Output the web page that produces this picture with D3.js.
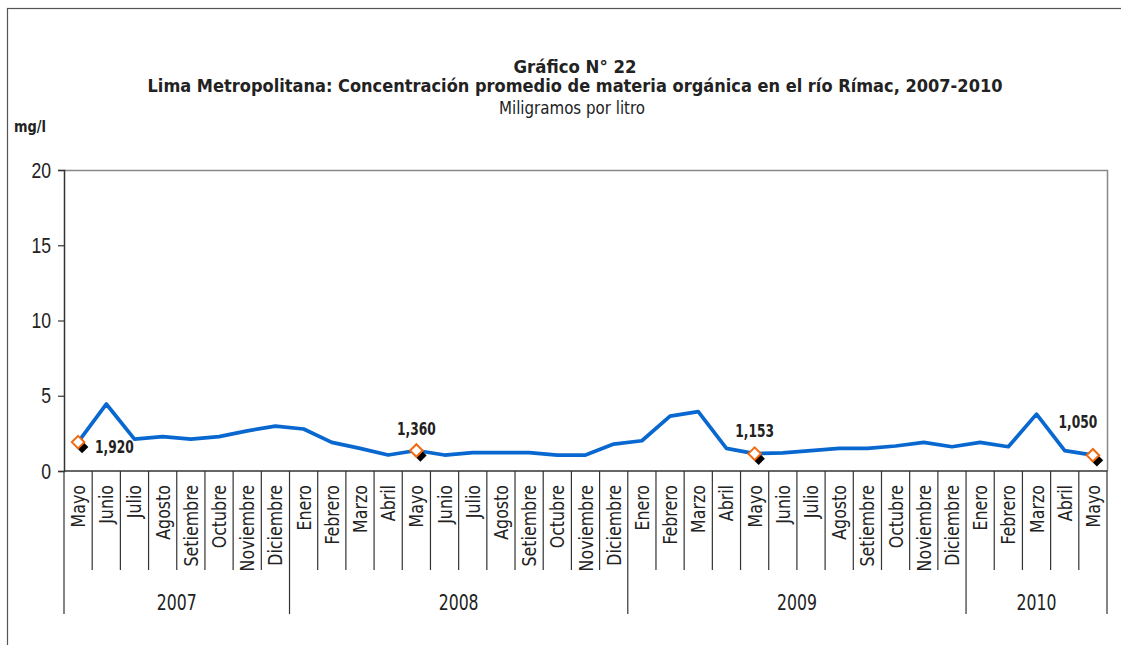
<!DOCTYPE html>
<html>
<head>
<meta charset="utf-8">
<script src="https://cdn.jsdelivr.net/npm/d3@7"></script>
<style>
  body { margin: 0; background: #fff; }
  svg { font-family: "Liberation Sans Narrow", "Arial Narrow", "DejaVu Sans Condensed", sans-serif; }
</style>
</head>
<body>
<div id="chart"></div>
<script>
// months shown on the category axis (May 2007 - May 2010)
var months = ["Mayo", "Junio", "Julio", "Agosto", "Setiembre", "Octubre", "Noviembre", "Diciembre",
  "Enero", "Febrero", "Marzo", "Abril", "Mayo", "Junio", "Julio", "Agosto", "Setiembre", "Octubre", "Noviembre", "Diciembre",
  "Enero", "Febrero", "Marzo", "Abril", "Mayo", "Junio", "Julio", "Agosto", "Setiembre", "Octubre", "Noviembre", "Diciembre",
  "Enero", "Febrero", "Marzo", "Abril", "Mayo"];

var years = ["2007", "2008", "2009", "2010"];
var yearMonths = [8, 12, 12, 5];

// mg/l
var values = [1.92, 4.45, 2.12, 2.28, 2.12, 2.28, 2.67, 2.98,
  2.79, 1.90, 1.50, 1.06, 1.36, 1.06, 1.22, 1.22, 1.22, 1.06, 1.06, 1.79,
  2.01, 3.65, 3.94, 1.50, 1.153, 1.20, 1.35, 1.50, 1.50, 1.66, 1.90, 1.61,
  1.90, 1.61, 3.78, 1.35, 1.05];

var labelled = [0, 12, 24, 36];
var labelText = ["1,920", "1,360", "1,153", "1,050"];

var yTicks = [0, 5, 10, 15, 20];

var width = 1121,
    height = 645;

var svg = d3.select("#chart").append("svg")
    .attr("width", width)
    .attr("height", height);

// squeeze text to look like a narrow face when none is installed
function narrow(sel, f) {
    sel.each(function () {
        var w = this.getComputedTextLength();
        d3.select(this).attr("textLength", w * f).attr("lengthAdjust", "spacingAndGlyphs");
    });
}

// outer frame (right and bottom edges fall outside the picture)
svg.append("rect")
    .attr("x", 7.5).attr("y", 8.5)
    .attr("width", 1200).attr("height", 700)
    .attr("fill", "none").attr("stroke", "#555").attr("stroke-width", 1.2);

var pLeft = 64, pRight = 1107, pTop = 170, pBottom = 471;

var x = d3.scaleBand()
    .domain(d3.range(months.length))
    .range([pLeft, pRight])
    .padding(0);

var y = d3.scaleLinear()
    .domain([0, 20])
    .range([pBottom, pTop]);

// titles
var title = svg.append("g").attr("text-anchor", "middle").attr("fill", "#222");
title.append("text").attr("x", 575).attr("y", 73)
    .style("font-size", "18px").style("font-weight", "bold")
    .attr("textLength", 123).attr("lengthAdjust", "spacingAndGlyphs")
    .text("Gráfico N° 22");
title.append("text").attr("x", 575).attr("y", 92)
    .style("font-size", "18px").style("font-weight", "bold")
    .attr("textLength", 855).attr("lengthAdjust", "spacing")
    .text("Lima Metropolitana: Concentración promedio de materia orgánica en el río Rímac, 2007-2010");
title.append("text").attr("x", 572).attr("y", 114)
    .style("font-size", "18px")
    .attr("textLength", 146).attr("lengthAdjust", "spacingAndGlyphs")
    .text("Miligramos por litro");

svg.append("text").attr("x", 14).attr("y", 132)
    .style("font-size", "15px").style("font-weight", "bold").attr("fill", "#222")
    .attr("textLength", 32).attr("lengthAdjust", "spacingAndGlyphs")
    .text("mg/l");

// plot border (top and right)
svg.append("path")
    .attr("d", "M" + pLeft + "," + (pTop + 0.5) + "H" + (pRight + 0.5) + "V" + pBottom)
    .attr("fill", "none").attr("stroke", "#888").attr("stroke-width", 1.5);

// y axis
var yAxis = svg.append("g")
    .attr("transform", "translate(" + pLeft + ",0)")
    .call(d3.axisLeft(y).tickValues(yTicks).tickSize(6).tickPadding(7));
yAxis.select(".domain").attr("stroke", "#333").attr("stroke-width", 1.5);
yAxis.selectAll(".tick line").attr("stroke", "#333").attr("stroke-width", 1.2);
yAxis.selectAll(".tick text")
    .style("font-size", "22px").style("font-family", "inherit").attr("fill", "#222")
    .call(narrow, 0.8);

// category axis: separators, month labels, year groups
var cat = svg.append("g");
cat.append("line")
    .attr("x1", pLeft).attr("x2", pRight + 0.5)
    .attr("y1", pBottom).attr("y2", pBottom)
    .attr("stroke", "#333").attr("stroke-width", 1.5);

var yearStart = [];
var acc = 0;
yearMonths.forEach(function (n) { yearStart.push(acc); acc += n; });

cat.selectAll(".sep")
    .data(d3.range(months.length + 1))
    .enter().append("line")
    .attr("class", "sep")
    .attr("x1", function (i) { return i < months.length ? x(i) : pRight; })
    .attr("x2", function (i) { return i < months.length ? x(i) : pRight; })
    .attr("y1", pBottom)
    .attr("y2", function (i) { return (yearStart.indexOf(i) >= 0 || i == months.length) ? 614 : 570; })
    .attr("stroke", "#333").attr("stroke-width", 1.2);

cat.selectAll(".mlabel")
    .data(months)
    .enter().append("text")
    .attr("class", "mlabel")
    .attr("transform", function (d, i) {
        return "translate(" + (x(i) + x.bandwidth() / 2 + 7) + "," + 485 + ") rotate(-90)";
    })
    .attr("text-anchor", "end")
    .style("font-size", "20px").attr("fill", "#222")
    .text(function (d) { return d; })
    .call(narrow, 0.88);

cat.selectAll(".ylabel")
    .data(years)
    .enter().append("text")
    .attr("class", "ylabel")
    .attr("x", function (d, i) {
        var a = x(yearStart[i]);
        var b = x(yearStart[i] + yearMonths[i] - 1) + x.bandwidth();
        return (a + b) / 2;
    })
    .attr("y", 610)
    .attr("text-anchor", "middle")
    .style("font-size", "21px").attr("fill", "#222")
    .text(function (d) { return d; })
    .call(narrow, 0.83);

// series line
var line = d3.line()
    .x(function (d, i) { return x(i) + x.bandwidth() / 2; })
    .y(function (d) { return y(d); });

svg.append("path")
    .datum(values)
    .attr("d", line)
    .attr("fill", "none")
    .attr("stroke", "#0868CF")
    .attr("stroke-width", 3.7)
    .attr("stroke-linejoin", "round");

// highlighted points: black shadow diamond + hollow orange diamond
var diamond = d3.symbol().type(d3.symbolDiamond2).size(100);
var pts = svg.selectAll(".pt")
    .data(labelled)
    .enter().append("g")
    .attr("class", "pt")
    .attr("transform", function (i) {
        return "translate(" + (x(i) + x.bandwidth() / 2) + "," + y(values[i]) + ")";
    });
pts.append("path")
    .attr("d", diamond)
    .attr("transform", "translate(4,5)")
    .attr("fill", "#000");
pts.append("path")
    .attr("d", diamond)
    .attr("fill", "#fff")
    .attr("stroke", "#F26A10")
    .attr("stroke-width", 2);

// value labels
var labelPos = [[17, 11, "start"], [0, -16, "middle"], [0, -17, "middle"], [-15, -27, "middle"]];
pts.append("text")
    .attr("x", function (d, k) { return labelPos[k][0]; })
    .attr("y", function (d, k) { return labelPos[k][1]; })
    .attr("text-anchor", function (d, k) { return labelPos[k][2]; })
    .style("font-size", "17px").style("font-weight", "bold").attr("fill", "#222")
    .text(function (d, k) { return labelText[k]; })
    .call(narrow, 0.8);
</script>
</body>
</html>
